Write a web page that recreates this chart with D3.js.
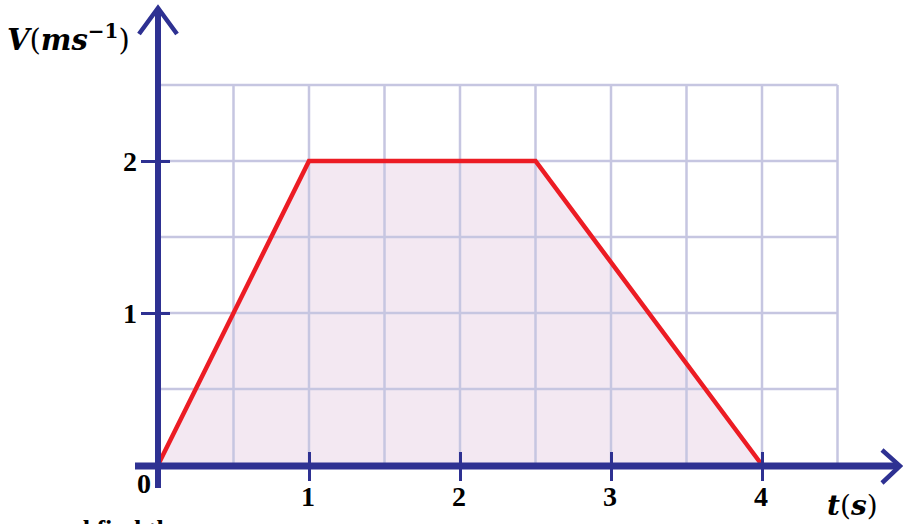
<!DOCTYPE html>
<html>
<head>
<meta charset="utf-8">
<script src="https://cdn.jsdelivr.net/npm/d3@7"></script>
<style>
  html, body { margin: 0; padding: 0; background: #fff; overflow: hidden; }
  svg { display: block; }
  .lbl { font-family: "Liberation Serif", "DejaVu Serif", serif; font-weight: bold; fill: #000; }
  .ttl { font-family: "DejaVu Serif", "Liberation Serif", serif; font-weight: bold; fill: #000; }
</style>
</head>
<body>
<svg id="chart" width="903" height="524"></svg>
<script>
// Velocity–time graph: accelerate, cruise, decelerate
const times = [0, 1, 2.5, 4];
const velocities = [0, 2, 2, 0];
const xTickValues = [1, 2, 3, 4];
const yTickValues = [1, 2];
const xGridValues = [0.5, 1, 1.5, 2, 2.5, 3, 3.5, 4, 4.5];
const yGridValues = [0.5, 1, 1.5, 2, 2.5];

const axisColor = "#2e3192";
const gridColor = "#c6c6e1";
const lineColor = "#ec1c24";
const fillColor = "#f3e8f2";

const svg = d3.select("#chart");
const x = d3.scaleLinear().domain([0, 4]).range([158, 762]);
const y = d3.scaleLinear().domain([0, 2]).range([465, 161]);

const pts = times.map((t, i) => [t, velocities[i]]);

// area under the curve
svg.append("path")
  .datum(pts)
  .attr("fill", fillColor)
  .attr("d", d3.area().x(d => x(d[0])).y0(y(0)).y1(d => y(d[1])));

// grid
const grid = svg.append("g").attr("stroke", gridColor).attr("stroke-width", 2.5);
grid.selectAll(".gv").data(xGridValues).join("line")
  .attr("x1", d => x(d)).attr("x2", d => x(d))
  .attr("y1", y(0)).attr("y2", y(2.5));
grid.selectAll(".gh").data(yGridValues).join("line")
  .attr("x1", x(0)).attr("x2", x(4.5))
  .attr("y1", d => y(d)).attr("y2", d => y(d));

// velocity line
svg.append("path")
  .datum(pts)
  .attr("fill", "none")
  .attr("stroke", lineColor)
  .attr("stroke-width", 4.5)
  .attr("stroke-linejoin", "miter")
  .attr("d", d3.line().x(d => x(d[0])).y(d => y(d[1])));

// axes built from d3 axis generators, then restyled
const xAxis = svg.append("g")
  .attr("transform", `translate(0,${y(0)})`)
  .call(d3.axisBottom(x).tickValues(xTickValues).tickSize(16).tickFormat(""));
xAxis.select(".domain").remove();
xAxis.selectAll(".tick line")
  .attr("y1", -13).attr("y2", 16)
  .attr("stroke", axisColor).attr("stroke-width", 3);

const yAxis = svg.append("g")
  .attr("transform", `translate(${x(0)},0)`)
  .call(d3.axisLeft(y).tickValues(yTickValues).tickSize(17).tickFormat(""));
yAxis.select(".domain").remove();
yAxis.selectAll(".tick line")
  .attr("x1", 12).attr("x2", -17)
  .attr("stroke", axisColor).attr("stroke-width", 3);

// main axis lines
svg.append("line")
  .attr("x1", 135).attr("x2", 899)
  .attr("y1", y(0) + 1).attr("y2", y(0) + 1)
  .attr("stroke", axisColor).attr("stroke-width", 7);
svg.append("line")
  .attr("x1", x(0)).attr("x2", x(0))
  .attr("y1", 9).attr("y2", 488)
  .attr("stroke", axisColor).attr("stroke-width", 6);

// arrow heads
svg.append("path")
  .attr("d", `M139,34 L${x(0)},8 L177,34`)
  .attr("fill", "none").attr("stroke", axisColor).attr("stroke-width", 4.5);
svg.append("path")
  .attr("d", `M882,450 L900,${y(0) + 1} L882,483`)
  .attr("fill", "none").attr("stroke", axisColor).attr("stroke-width", 4.5);

// tick labels
svg.selectAll(".xl").data(xTickValues).join("text")
  .attr("class", "lbl")
  .attr("x", d => x(d) - 1).attr("y", 506)
  .attr("text-anchor", "middle")
  .attr("font-size", 28)
  .text(d => d);
svg.append("text").attr("class", "lbl")
  .attr("x", 144).attr("y", 493).attr("text-anchor", "middle")
  .attr("font-size", 28).text("0");
svg.selectAll(".yl").data(yTickValues).join("text")
  .attr("class", "lbl")
  .attr("x", 130).attr("y", d => y(d) + 10)
  .attr("text-anchor", "middle")
  .attr("font-size", 28)
  .text(d => d);

// axis titles
const vt = svg.append("text").attr("class", "ttl")
  .attr("x", 7).attr("y", 50).attr("font-size", 29);
vt.append("tspan").attr("font-style", "italic").text("V");
vt.append("tspan").attr("font-weight", "normal").text("(");
vt.append("tspan").attr("font-style", "italic").text("ms");
vt.append("tspan").attr("font-size", 20).attr("dy", -12).text("−1");
vt.append("tspan").attr("font-weight", "normal").attr("dy", 12).text(")");

const tt = svg.append("text").attr("class", "ttl")
  .attr("x", 827).attr("y", 515).attr("font-size", 28);
tt.append("tspan").attr("font-style", "italic").text("t");
tt.append("tspan").attr("font-weight", "normal").text("(");
tt.append("tspan").attr("font-style", "italic").text("s");
tt.append("tspan").attr("font-weight", "normal").text(")");

// following text line, mostly below the frame
svg.append("text").attr("class", "lbl")
  .attr("x", 48).attr("y", 538).attr("font-size", 26).attr("font-weight", "normal")
  .text("and find the");
</script>
</body>
</html>
